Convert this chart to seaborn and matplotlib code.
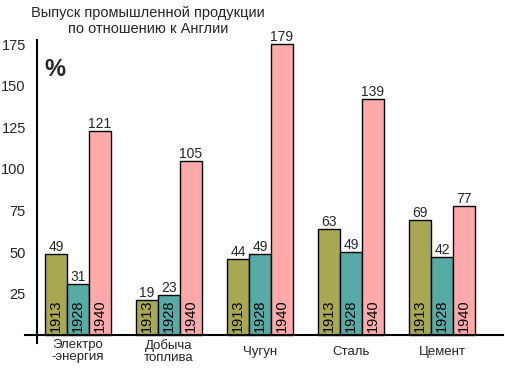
import pandas as pd
import matplotlib.pyplot as plt
import matplotlib.transforms as mtransforms
import seaborn as sns

# Данные: высоты столбиков (по рисунку) и подписанные значения
categories = ["Электро\n-энергия", "Добыча\nтоплива", "Чугун", "Сталь", "Цемент"]
years = ["1913", "1928", "1940"]
heights_1913 = [49, 21, 46, 64, 69]
heights_1928 = [31, 24, 49, 50, 47]
heights_1940 = [123, 105, 175, 142, 78]
labels_1913 = [49, 19, 44, 63, 69]
labels_1928 = [31, 23, 49, 49, 42]
labels_1940 = [121, 105, 179, 139, 77]
yticks = [25, 50, 75, 100, 125, 150, 175]

colors = ["#a8a852", "#58aaa6", "#ffaaaa"]

rows = []
for yr, hs in zip(years, [heights_1913, heights_1928, heights_1940]):
    for cat, h in zip(categories, hs):
        rows.append({"cat": cat, "year": yr, "value": h})
df = pd.DataFrame(rows)

sns.set_style("white")
plt.rcParams["font.family"] = ["Liberation Sans", "DejaVu Sans"]

fig = plt.figure(figsize=(5.06, 3.69), dpi=100)
ax = fig.add_axes([0.0494, 0.0705, 0.9446, 0.8211])

sns.barplot(data=df, x="cat", y="value", hue="year", palette=colors,
            saturation=1, width=0.725, gap=0, dodge=True,
            edgecolor="black", linewidth=1.0, legend=False, ax=ax)

# подписи значений над столбиками
for cont, labs in zip(ax.containers, [labels_1913, labels_1928, labels_1940]):
    ax.bar_label(cont, labels=[str(v) for v in labs], padding=0, fontsize=10)

# годы внутри столбиков
for cont, yr in zip(ax.containers, years):
    for bar in cont:
        ax.text(bar.get_x() + bar.get_width() / 2, 2, yr, rotation=90,
                ha="center", va="bottom", fontsize=10.5, color="black")

ax.set_xlim(-0.582, 4.67)
ax.set_ylim(-4.8, 177.7)
ax.set_xlabel("")
ax.set_ylabel("")

for s in ["top", "right"]:
    ax.spines[s].set_visible(False)
ax.spines["left"].set_position(("data", -0.451))
ax.spines["bottom"].set_position(("data", 0))
ax.spines["left"].set_color("black")
ax.spines["bottom"].set_color("black")
ax.spines["left"].set_linewidth(1.5)
ax.spines["bottom"].set_linewidth(1.5)

ax.set_yticks(yticks)
ax.set_yticklabels([str(t) for t in yticks], fontsize=10.5)
ax.tick_params(axis="y", direction="out", length=7, width=1.5, color="#999999", pad=1)
ax.set_yticks([175], minor=True)
ax.tick_params(axis="y", which="minor", direction="inout", length=14, width=1.2, color="black")
ax.tick_params(axis="x", length=0, labelsize=9.5, pad=3)

# однострочные подписи чуть ниже, как в оригинале
shift = mtransforms.ScaledTranslation(0, -5 / 72, fig.dpi_scale_trans)
for lab in ax.get_xticklabels():
    lab.set_linespacing(0.95)
    if "\n" not in lab.get_text():
        lab.set_transform(lab.get_transform() + shift)

fig.text(0.2925, 0.985, "Выпуск промышленной продукции\nпо отношению к Англии",
         ha="center", va="top", fontsize=10.5)
fig.text(55 / 506, 1 - 70 / 369, "%", ha="center", va="center",
         fontsize=17, fontweight="bold")

plt.savefig("out.png", dpi=100)
